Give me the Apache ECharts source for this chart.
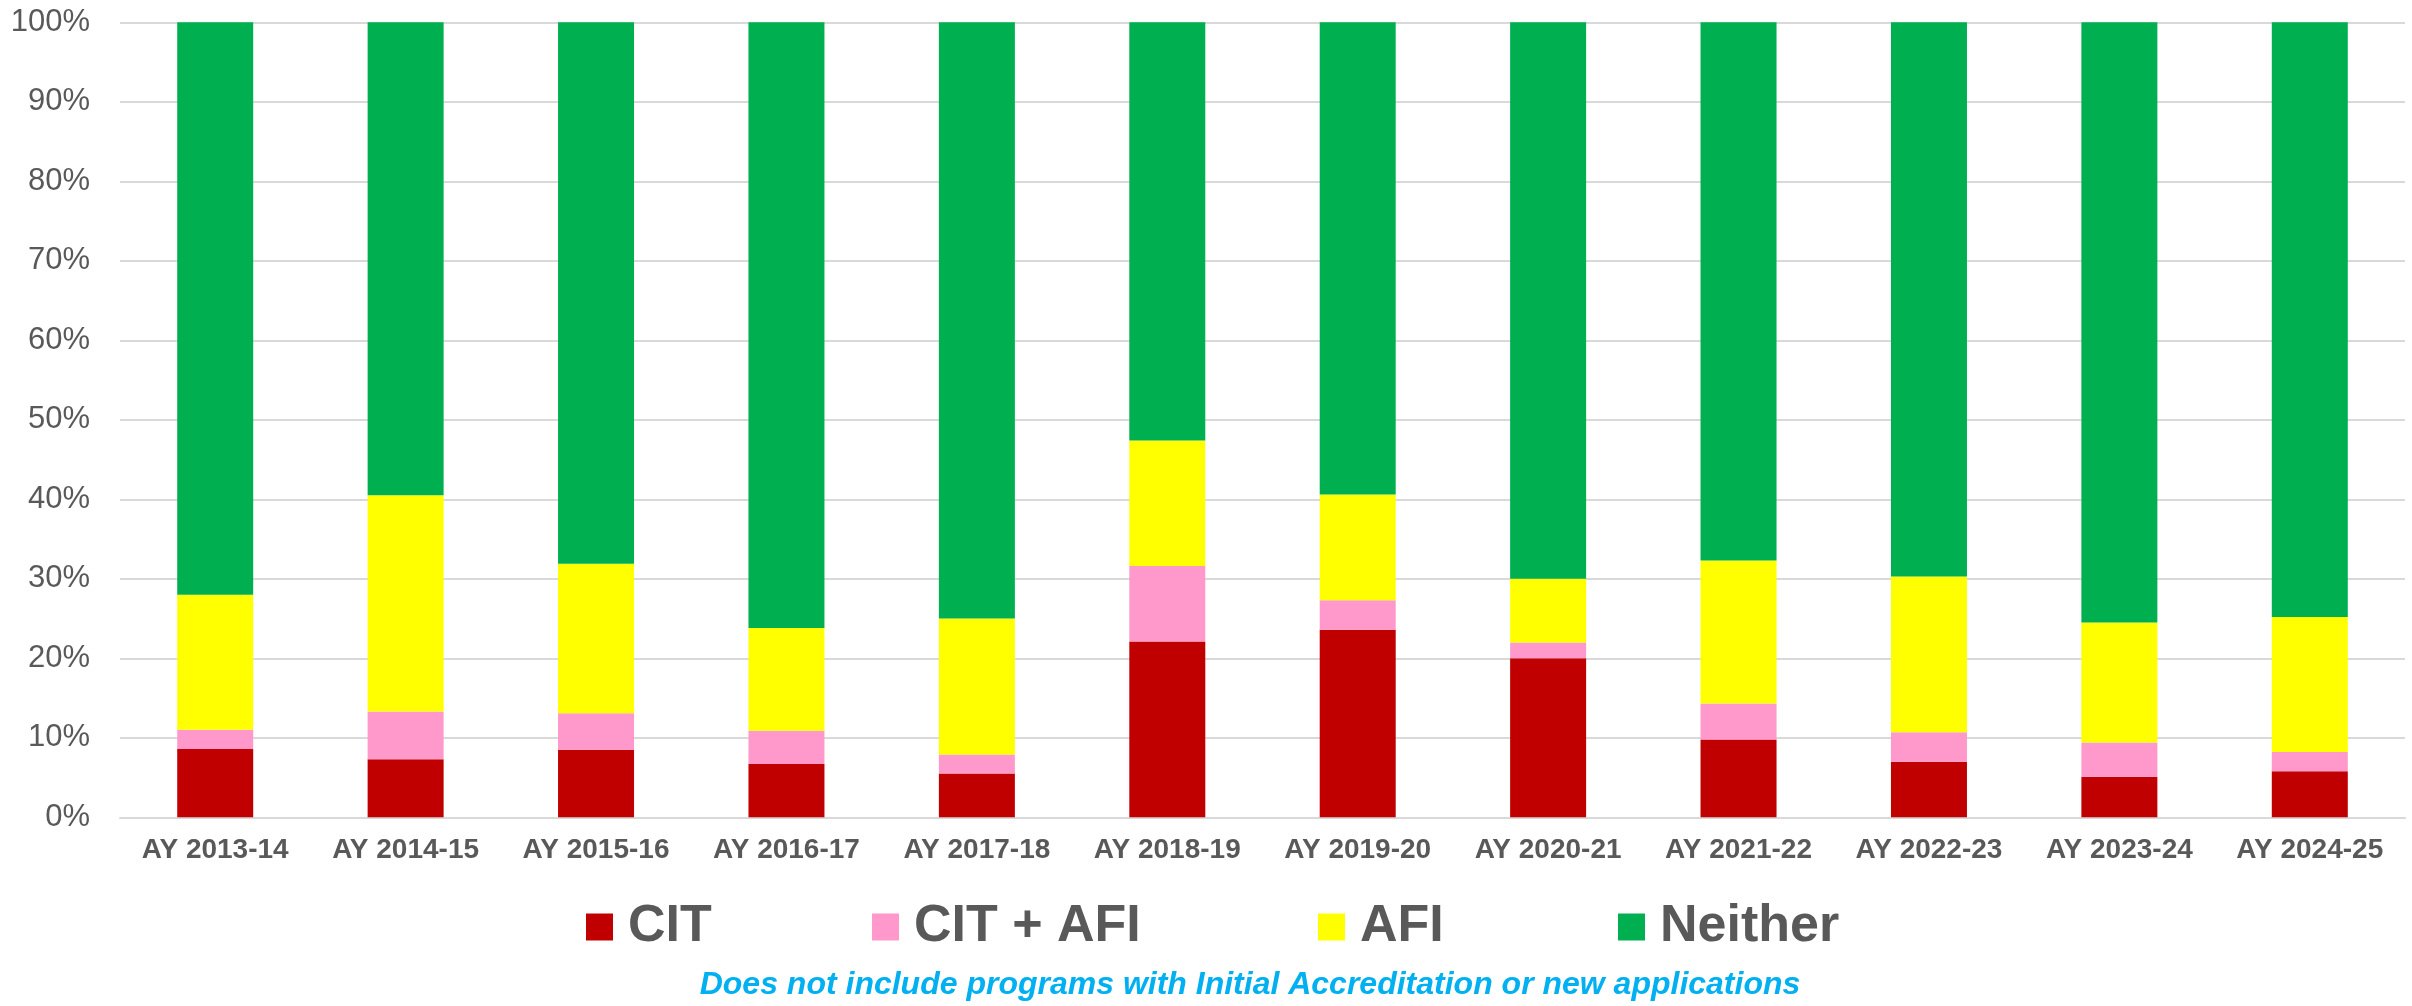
<!DOCTYPE html>
<html>
<head>
<meta charset="utf-8">
<script src="https://cdn.jsdelivr.net/npm/echarts@6/dist/echarts.min.js"></script>
<style>
html,body{margin:0;padding:0;background:#fff;}
#chart{width:2412px;height:1006px;}
</style>
</head>
<body>
<div id="chart"></div>
<script>
var categories = ['AY 2013-14','AY 2014-15','AY 2015-16','AY 2016-17','AY 2017-18','AY 2018-19','AY 2019-20','AY 2020-21','AY 2021-22','AY 2022-23','AY 2023-24','AY 2024-25'];
var cit     = [8.6, 7.3, 8.5, 6.7, 5.5, 22.1, 23.6, 20.0, 9.8, 7.0, 5.1, 5.8];
var citAfi  = [2.4, 6.0, 4.6, 4.2, 2.4, 9.5, 3.7, 2.0, 4.5, 3.7, 4.3, 2.4];
var afi     = [17.0, 27.2, 18.8, 12.9, 17.1, 15.8, 13.3, 8.0, 18.0, 19.6, 15.1, 17.0];
var neither = [72.0, 59.5, 68.1, 76.2, 75.0, 52.6, 59.4, 70.0, 67.7, 69.7, 75.5, 74.8];
var seriesNames = ['CIT', 'CIT + AFI', 'AFI', 'Neither'];
var yTicks = [0, 10, 20, 30, 40, 50, 60, 70, 80, 90, 100];
var footnote = 'Does not include programs with Initial Accreditation or new applications';

var colors = ['#C00000', '#FF99CC', '#FFFF00', '#00B050'];
var font = "'Liberation Sans', Arial, sans-serif";
var values = [cit, citAfi, afi, neither];
var legendLefts = [586, 872, 1318, 1618];

var chart = echarts.init(document.getElementById('chart'), null, {renderer: 'canvas'});
var option = {
  animation: false,
  backgroundColor: '#ffffff',
  color: colors,
  grid: {left: 120, right: 7, top: 22.3, bottom: 188.7, containLabel: false},
  legend: seriesNames.map(function (n, i) {
    return {
      data: [n],
      left: legendLefts[i],
      top: 899,
      padding: 0,
      itemWidth: 27,
      itemHeight: 27,
      icon: 'rect',
      selectedMode: false,
      textStyle: {fontFamily: font, fontSize: 52, fontWeight: 'bold', color: '#595959', padding: [0, 0, 0, 10], lineHeight: 56}
    };
  }),
  graphic: [{
    type: 'text',
    x: 1250,
    y: 985,
    style: {
      text: footnote,
      font: 'italic bold 32px ' + font,
      fill: '#00B0F0',
      textAlign: 'center',
      textVerticalAlign: 'middle'
    }
  }],
  xAxis: {
    type: 'category',
    data: categories,
    boundaryGap: true,
    axisLine: {show: true, lineStyle: {color: '#D9D9D9', width: 2}},
    axisTick: {show: false},
    axisLabel: {fontFamily: font, fontSize: 28, fontWeight: 'bold', color: '#595959', margin: 19, interval: 0}
  },
  yAxis: {
    type: 'value',
    min: yTicks[0],
    max: yTicks[yTicks.length - 1],
    interval: yTicks[1] - yTicks[0],
    axisLine: {show: false},
    axisTick: {show: false},
    splitLine: {lineStyle: {color: '#D9D9D9', width: 2}},
    axisLabel: {fontFamily: font, fontSize: 31, color: '#595959', margin: 30, formatter: '{value}%'}
  },
  series: seriesNames.map(function (n, i) {
    return {
      name: n,
      type: 'bar',
      stack: 'total',
      barWidth: 76,
      data: values[i],
      itemStyle: {color: colors[i]}
    };
  })
};
chart.setOption(option);
</script>
</body>
</html>
